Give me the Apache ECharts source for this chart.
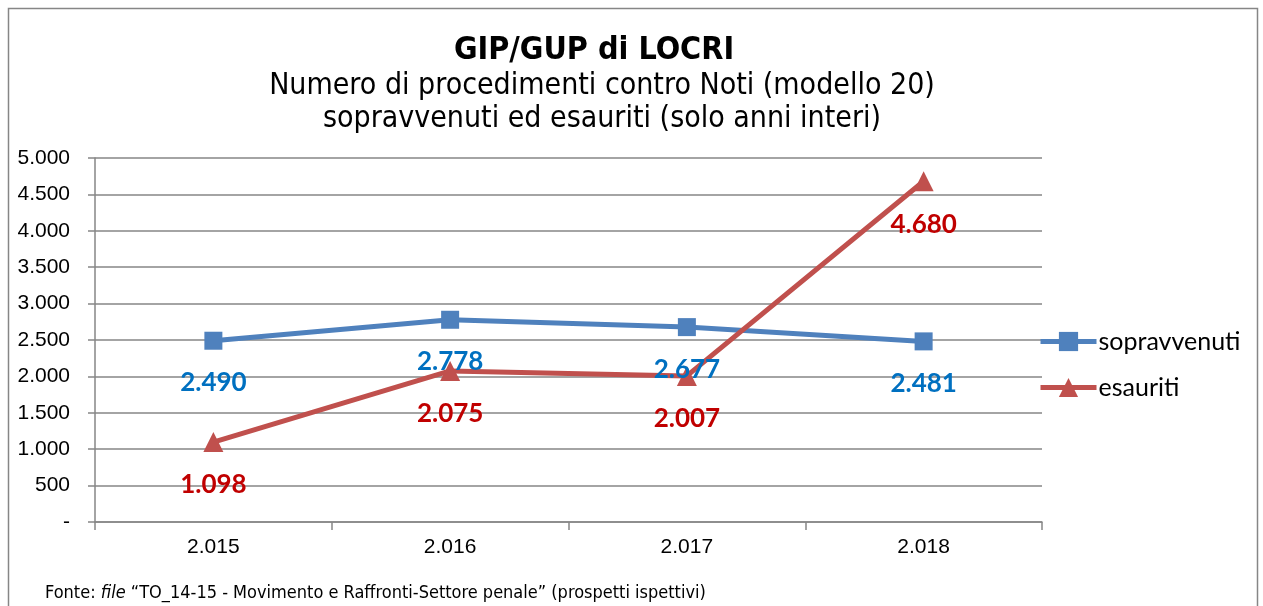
<!DOCTYPE html>
<html>
<head>
<meta charset="utf-8">
<script src="https://cdn.jsdelivr.net/npm/echarts@6/dist/echarts.min.js"></script>
<style>
  html, body { margin: 0; padding: 0; background: #fff; }
  #main { width: 1263px; height: 606px; }
</style>
</head>
<body>
<div id="main"></div>
<script>
// dati
const anni = ['2.015', '2.016', '2.017', '2.018'];
const sopravvenuti = [2490, 2778, 2677, 2481];
const esauriti = [1098, 2075, 2007, 4680];

// formato italiano: 2.490, zero come "-"
function fmt(v) {
  if (v === 0) return '-';
  return String(v).replace(/\B(?=(\d{3})+(?!\d))/g, '.');
}

const chart = echarts.init(document.getElementById('main'));

const option = {
  backgroundColor: '#fff',
  animation: false,
  title: [{
    text: 'GIP/GUP di LOCRI',
    left: 589,
    textAlign: 'center',
    top: 30,
    textStyle: { fontFamily: 'DejaVu Sans Condensed', fontWeight: 'bold', fontSize: 32, color: '#000' }
  }, {
    text: 'Numero di procedimenti contro Noti (modello 20)\nsopravvenuti ed esauriti (solo anni interi)',
    left: 597,
    textAlign: 'center',
    top: 65,
    textStyle: { fontFamily: 'DejaVu Sans Condensed', fontWeight: 'normal', fontSize: 30, color: '#000', lineHeight: 33 }
  }, {
    text: 'Fonte: {i|file} “TO_14-15 - Movimento e Raffronti-Settore penale” (prospetti ispettivi)',
    left: 40,
    top: 579,
    textStyle: {
      fontFamily: 'DejaVu Sans Condensed', fontWeight: 'normal', fontSize: 18, color: '#000',
      rich: { i: { fontFamily: 'DejaVu Sans Condensed', fontStyle: 'italic', fontSize: 18, color: '#000' } }
    }
  }],
  legend: {
    orient: 'vertical',
    left: 1033,
    top: 324,
    itemGap: 21,
    itemWidth: 56,
    itemHeight: 24,
    lineStyle: { width: 5 },
    textStyle: { fontFamily: 'Lato', fontSize: 25, color: '#000', padding: [0, 0, 0, -3] },
    data: ['sopravvenuti', 'esauriti']
  },
  grid: { left: 95, right: 221, top: 158, bottom: 84 },
  xAxis: {
    type: 'category',
    data: anni,
    boundaryGap: true,
    axisLine: { lineStyle: { color: '#868686', width: 1.5 } },
    axisTick: { show: true, alignWithLabel: false, length: 8, lineStyle: { color: '#868686', width: 1.5 } },
    axisLabel: { fontFamily: 'Liberation Sans', fontSize: 21, color: '#000', margin: 15 }
  },
  yAxis: {
    type: 'value',
    min: 0,
    max: 5000,
    interval: 500,
    axisLine: { show: true, lineStyle: { color: '#868686', width: 1.5 } },
    axisTick: { show: true, length: 7, lineStyle: { color: '#868686', width: 1.5 } },
    splitLine: { lineStyle: { color: '#868686', width: 1.5 } },
    axisLabel: { fontFamily: 'Liberation Sans', fontSize: 21, color: '#000', margin: 25, formatter: fmt }
  },
  series: [{
    name: 'sopravvenuti',
    type: 'line',
    data: sopravvenuti,
    symbol: 'rect',
    symbolSize: 18,
    itemStyle: { color: '#4F81BD' },
    lineStyle: { color: '#4F81BD', width: 5 },
    label: {
      show: true, position: 'bottom', distance: 20,
      formatter: p => fmt(p.value),
      fontFamily: 'Lato', fontWeight: 'bold', fontSize: 26, color: '#0070C0'
    }
  }, {
    name: 'esauriti',
    type: 'line',
    data: esauriti,
    symbol: 'triangle',
    symbolSize: 20,
    itemStyle: { color: '#C0504D' },
    lineStyle: { color: '#C0504D', width: 5 },
    label: {
      show: true, position: 'bottom', distance: 20,
      formatter: p => fmt(p.value),
      fontFamily: 'Lato', fontWeight: 'bold', fontSize: 26, color: '#C00000'
    }
  }],
  graphic: [{
    type: 'rect',
    shape: { x: 8.5, y: 8.5, width: 1249, height: 640 },
    style: { fill: 'none', stroke: '#868686', lineWidth: 1.5 },
    silent: true
  }]
};

chart.setOption(option);
</script>
</body>
</html>
